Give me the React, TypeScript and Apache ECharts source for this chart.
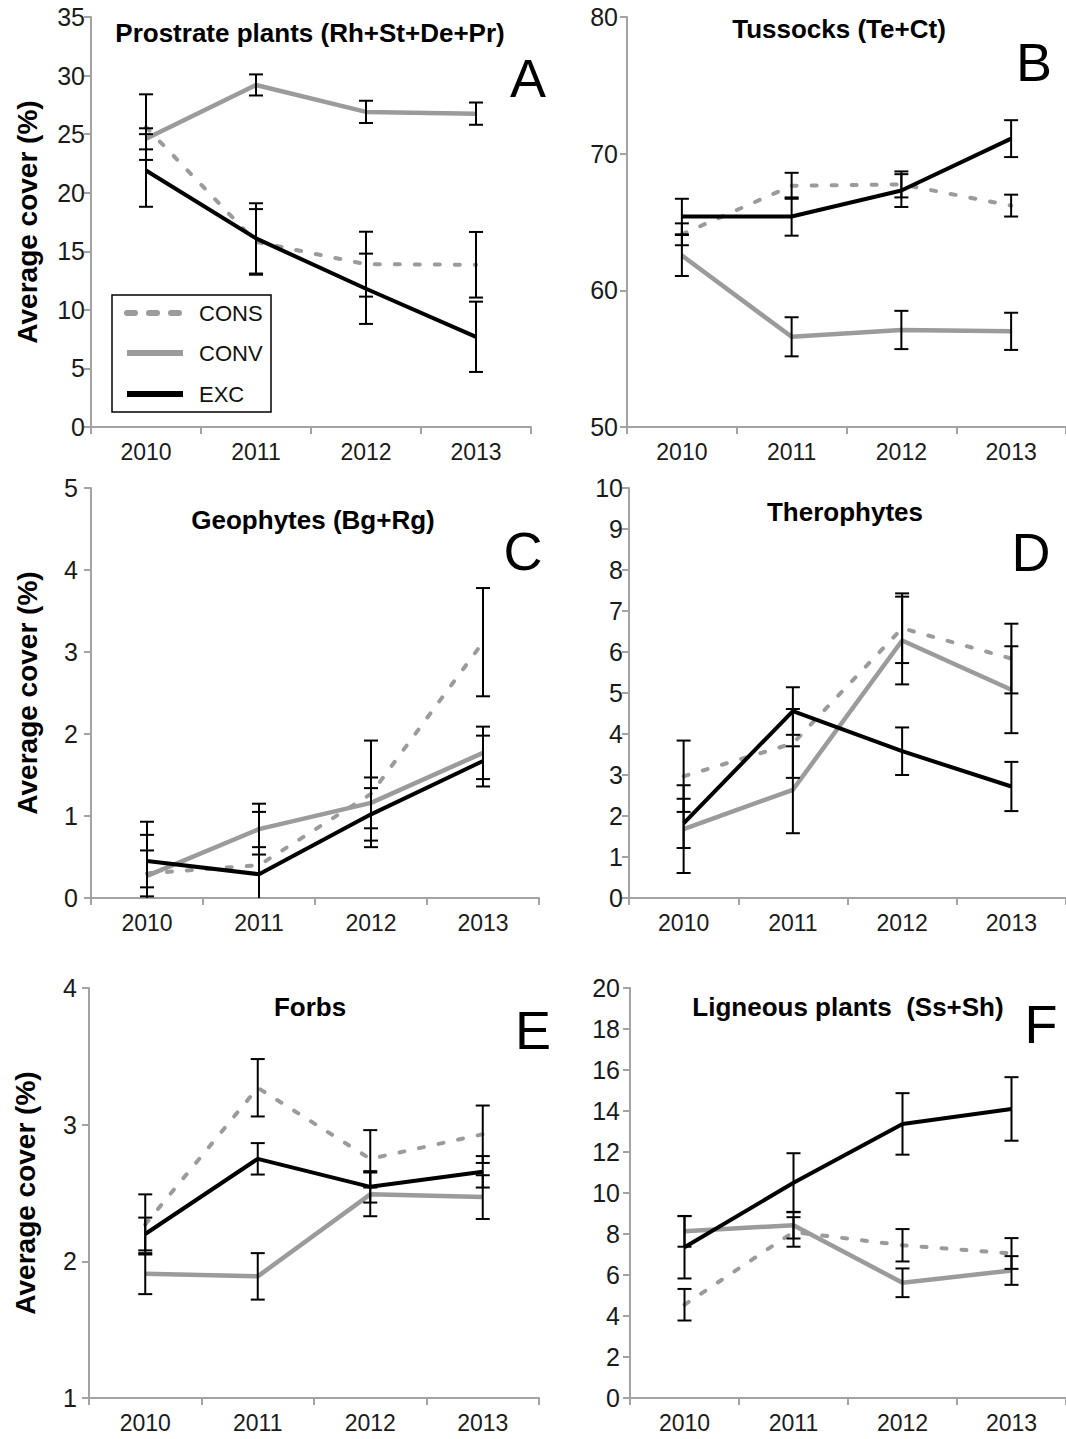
import React, { useEffect, useRef } from 'react';
import * as echarts from 'echarts';

const years = ['2010', '2011', '2012', '2013'];

// Panel A – Prostrate plants
const consA = [25.6, 15.8, 13.9, 13.85];
const consAErr = [2.8, 2.8, 2.77, 2.8];
const convA = [24.6, 29.2, 26.9, 26.75];
const convAErr = [0.9, 0.9, 0.95, 0.95];
const excA = [21.9, 16.1, 11.8, 7.7];
const excAErr = [3.1, 3.0, 3.0, 3.0];

// Panel B – Tussocks
const consB = [64.1, 67.65, 67.75, 66.2];
const consBErr = [0.8, 0.95, 0.95, 0.8];
const convB = [62.55, 56.6, 57.1, 57.0];
const convBErr = [1.5, 1.43, 1.4, 1.36];
const excB = [65.4, 65.4, 67.3, 71.1];
const excBErr = [1.3, 1.4, 1.2, 1.35];

// Panel C – Geophytes
const consC = [0.3, 0.4, 1.27, 3.12];
const consCErr = [0.28, 0.65, 0.65, 0.66];
const convC = [0.27, 0.84, 1.16, 1.77];
const convCErr = [0.66, 0.31, 0.31, 0.32];
const excC = [0.45, 0.29, 1.02, 1.67];
const excCErr = [0.32, 0.33, 0.32, 0.31];

// Panel D – Therophytes
const consD = [2.97, 3.77, 6.58, 5.84];
const consDErr = [0.87, 0.84, 0.85, 0.85];
const convD = [1.68, 2.64, 6.28, 5.08];
const convDErr = [1.07, 1.06, 1.07, 1.06];
const excD = [1.82, 4.56, 3.58, 2.72];
const excDErr = [0.6, 0.58, 0.58, 0.6];

// Panel E – Forbs
const consE = [2.27, 3.27, 2.75, 2.93];
const consEErr = [0.22, 0.21, 0.21, 0.21];
const convE = [1.91, 1.89, 2.49, 2.47];
const convEErr = [0.15, 0.17, 0.16, 0.16];
const excE = [2.2, 2.75, 2.545, 2.655];
const excEErr = [0.12, 0.115, 0.115, 0.115];

// Panel F – Ligneous plants
const consF = [4.55, 8.1, 7.45, 7.05];
const consFErr = [0.77, 0.72, 0.79, 0.75];
const convF = [8.13, 8.43, 5.62, 6.22];
const convFErr = [0.75, 0.65, 0.7, 0.7];
const excF = [7.35, 10.5, 13.37, 14.1];
const excFErr = [1.52, 1.44, 1.5, 1.55];

const seriesNames = ['CONS', 'CONV', 'EXC'];
const yAxisTitle = 'Average cover (%)';

const FONT = '"Liberation Sans", Arial, Helvetica, sans-serif';
const AXIS_GRAY = '#a3a3a3';
const LINE_GRAY = '#9b9b9b';

const panels = [
  {
    title: 'Prostrate plants (Rh+St+De+Pr)', letter: 'A', min: 0, max: 35, interval: 5,
    data: [[consA, consAErr], [convA, convAErr], [excA, excAErr]],
    grid: { left: 91, top: 17, width: 440, height: 410 }, yName: true, labelMargin: 6,
    titlePos: [310, 33], letterPos: [528, 78],
  },
  {
    title: 'Tussocks (Te+Ct)', letter: 'B', min: 50, max: 80, interval: 10,
    data: [[consB, consBErr], [convB, convBErr], [excB, excBErr]],
    grid: { left: 627, top: 17, width: 439, height: 410 }, yName: false, labelMargin: 9,
    titlePos: [839, 29], letterPos: [1034, 62],
  },
  {
    title: 'Geophytes (Bg+Rg)', letter: 'C', min: 0, max: 5, interval: 1,
    data: [[consC, consCErr], [convC, convCErr], [excC, excCErr]],
    grid: { left: 91, top: 488, width: 448, height: 410 }, yName: true, labelMargin: 13,
    titlePos: [313, 520], letterPos: [523, 551],
  },
  {
    title: 'Therophytes', letter: 'D', min: 0, max: 10, interval: 1,
    data: [[consD, consDErr], [convD, convDErr], [excD, excDErr]],
    grid: { left: 629, top: 488, width: 437, height: 410 }, yName: false, labelMargin: 6,
    titlePos: [845, 512], letterPos: [1031, 552],
  },
  {
    title: 'Forbs', letter: 'E', min: 1, max: 4, interval: 1,
    data: [[consE, consEErr], [convE, convEErr], [excE, excEErr]],
    grid: { left: 89, top: 988, width: 450, height: 410 }, yName: true, labelMargin: 12,
    titlePos: [310, 1007], letterPos: [533, 1030],
  },
  {
    title: 'Ligneous plants  (Ss+Sh)', letter: 'F', min: 0, max: 20, interval: 2,
    data: [[consF, consFErr], [convF, convFErr], [excF, excFErr]],
    grid: { left: 630, top: 988, width: 436, height: 410 }, yName: false, labelMargin: 10,
    titlePos: [848, 1007], letterPos: [1041, 1024],
  },
];

const lineStyles = [
  { color: LINE_GRAY, width: 4, type: [5, 15], cap: 'round' },
  { color: LINE_GRAY, width: 4.5, type: 'solid' },
  { color: '#000000', width: 4, type: 'solid' },
];

function renderErrorBar(params: any, api: any) {
  const x = api.value(0);
  const lo = api.value(1);
  const hi = api.value(2);
  const pLo = api.coord([x, lo]);
  const pHi = api.coord([x, hi]);
  const w = 7;
  const style = { stroke: '#000', lineWidth: 2 };
  return {
    type: 'group',
    children: [
      { type: 'line', shape: { x1: pLo[0], y1: pLo[1], x2: pHi[0], y2: pHi[1] }, style },
      { type: 'line', shape: { x1: pHi[0] - w, y1: pHi[1], x2: pHi[0] + w, y2: pHi[1] }, style },
      { type: 'line', shape: { x1: pLo[0] - w, y1: pLo[1], x2: pLo[0] + w, y2: pLo[1] }, style },
    ],
  };
}

function buildOption() {
  const grid: any[] = [];
  const xAxis: any[] = [];
  const yAxis: any[] = [];
  const series: any[] = [];
  const graphic: any[] = [];

  panels.forEach((p, i) => {
    grid.push({ ...p.grid, containLabel: false });
    xAxis.push({
      type: 'category', gridIndex: i, data: years, boundaryGap: true,
      axisLine: { show: true, lineStyle: { color: AXIS_GRAY, width: 2 } },
      axisTick: { show: true, length: 7, lineStyle: { color: AXIS_GRAY, width: 2 } },
      axisLabel: { fontSize: 23, color: '#1a1a1a', fontFamily: FONT, margin: 13 },
      splitLine: { show: false },
    });
    yAxis.push({
      type: 'value', gridIndex: i, min: p.min, max: p.max, interval: p.interval,
      name: p.yName ? yAxisTitle : '',
      nameLocation: 'middle', nameGap: 50,
      nameTextStyle: { fontSize: 28, fontWeight: 'bold', color: '#000', fontFamily: FONT },
      axisLine: { show: true, lineStyle: { color: AXIS_GRAY, width: 2 } },
      axisTick: { show: true, length: 7, lineStyle: { color: AXIS_GRAY, width: 2 } },
      axisLabel: { fontSize: 25, color: '#1a1a1a', fontFamily: FONT, margin: p.labelMargin },
      splitLine: { show: false },
    });

    const bars: number[][] = [];
    p.data.forEach(([vals, errs], s) => {
      series.push({
        type: 'line', name: seriesNames[s], xAxisIndex: i, yAxisIndex: i,
        data: vals, symbol: 'none', showSymbol: false,
        lineStyle: lineStyles[s], z: 2 + s, silent: true,
      });
      vals.forEach((v: number, k: number) => bars.push([k, v - errs[k], v + errs[k]]));
    });
    series.push({
      type: 'custom', name: 'error bars ' + p.letter, xAxisIndex: i, yAxisIndex: i,
      renderItem: renderErrorBar, data: bars, encode: { x: 0, y: [1, 2] },
      clip: true, z: 10, silent: true,
    });

    graphic.push({
      type: 'text', x: p.titlePos[0], y: p.titlePos[1], z: 20,
      style: {
        text: p.title, font: `bold 26px ${FONT}`, fill: '#000',
        align: 'center', verticalAlign: 'middle', textAlign: 'center', textVerticalAlign: 'middle',
      },
    });
    graphic.push({
      type: 'text', x: p.letterPos[0], y: p.letterPos[1], z: 20,
      style: {
        text: p.letter, font: `54px ${FONT}`, fill: '#000',
        align: 'center', verticalAlign: 'middle', textAlign: 'center', textVerticalAlign: 'middle',
      },
    });
  });

  // Legend box in panel A
  const legendX = 112, legendY = 295, legendW = 159, legendH = 117;
  graphic.push({
    type: 'rect', shape: { x: legendX, y: legendY, width: legendW, height: legendH },
    style: { fill: '#fff', stroke: '#000', lineWidth: 1.5 }, z: 30,
  });
  const rowY = [313, 353, 394];
  seriesNames.forEach((n, s) => {
    const ls: any = lineStyles[s];
    graphic.push({
      type: 'line', shape: { x1: 127, y1: rowY[s], x2: 183, y2: rowY[s] }, z: 31,
      style: {
        stroke: ls.color, lineWidth: 6,
        lineDash: s === 0 ? [8, 14] : null, lineCap: s === 0 ? 'round' : 'butt',
      },
    });
    graphic.push({
      type: 'text', x: 199, y: rowY[s], z: 31,
      style: {
        text: n, font: `22px ${FONT}`, fill: '#111',
        align: 'left', verticalAlign: 'middle', textAlign: 'left', textVerticalAlign: 'middle',
      },
    });
  });

  return {
    animation: false,
    backgroundColor: '#ffffff',
    grid, xAxis, yAxis, series, graphic,
  };
}

export default function App() {
  const ref = useRef<HTMLDivElement>(null);
  useEffect(() => {
    if (!ref.current) return;
    const chart = echarts.init(ref.current, undefined, { renderer: 'svg' });
    chart.setOption(buildOption() as any);
    return () => chart.dispose();
  }, []);
  return (
    <div
      ref={ref}
      style={{ position: 'absolute', left: 0, top: 0, width: 1066, height: 1439, background: '#fff' }}
    />
  );
}
